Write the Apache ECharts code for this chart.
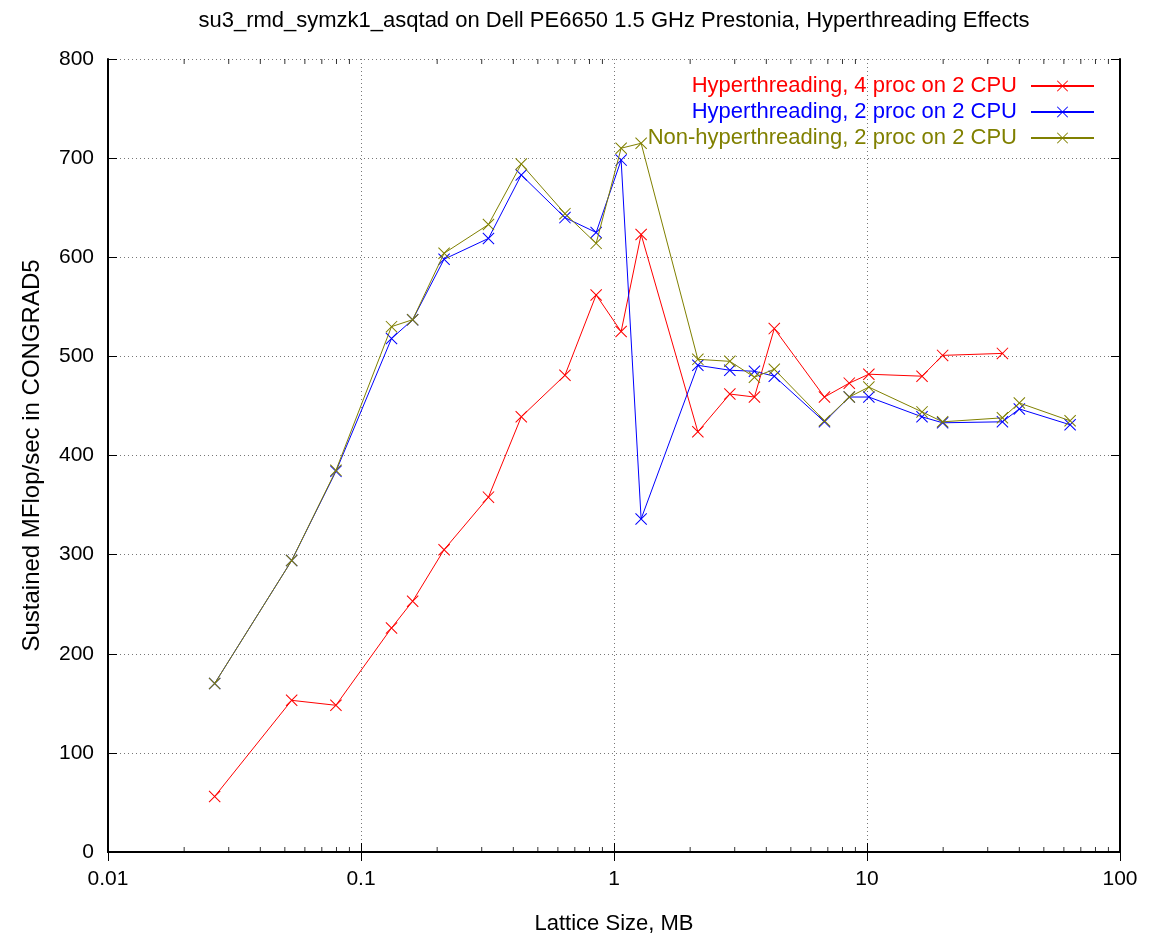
<!DOCTYPE html>
<html>
<head>
<meta charset="utf-8">
<script src="https://cdn.jsdelivr.net/npm/echarts@6/dist/echarts.min.js"></script>
<style>
html,body{margin:0;padding:0;background:#fff;}
#chart{width:1160px;height:940px;}
</style>
</head>
<body>
<div id="chart"></div>
<script>
// Lattice sizes (MB)
const latticeSizes = [0.0264, 0.0532, 0.0796, 0.132, 0.160, 0.213, 0.319, 0.430, 0.640, 0.850, 1.067, 1.28, 2.145, 2.87, 3.59, 4.30, 6.79, 8.51, 10.17, 16.5, 19.9, 34.3, 40.0, 63.5];
// Sustained MFlop/sec
const ht4proc = [56, 153, 148, 226, 253, 305, 358, 439, 481, 562, 525, 623, 424, 462, 459, 528, 459, 473, 482, 480, 501, 503];
const ht2proc = [170, 294, 384, 518, 537, 598, 619, 683, 640, 625, 698, 336, 491, 486, 485, 480, 434, 459, 459, 439, 433, 434, 447, 431];
const nonHt2proc = [170, 294, 385, 530, 537, 604, 633, 694, 644, 614, 710, 715, 497, 495, 479, 487, 435, 459, 469, 444, 434, 438, 453, 435];
const seriesNames = ['Hyperthreading, 4 proc on 2 CPU', 'Hyperthreading, 2 proc on 2 CPU', 'Non-hyperthreading, 2 proc on 2 CPU'];
const seriesColors = ['#ff0000', '#0000ff', '#808000'];
// minor tick values on the log axis
const minorTickValues = [0.02,0.03,0.04,0.05,0.06,0.07,0.08,0.09,0.2,0.3,0.4,0.5,0.6,0.7,0.8,0.9,2,3,4,5,6,7,8,9,20,30,40,50,60,70,80,90];

const FONT = 'Liberation Sans';
const xSym = 'path://M0,0.6L0.6,0L10,9.4L9.4,10Z M9.4,0L10,0.6L0.6,10L0,9.4Z';

function pairs(vals){ return vals.map((v,i)=>[latticeSizes[i], v]); }

const dataSets = [ht4proc, ht2proc, nonHt2proc];
const lineSeries = dataSets.map((vals, k) => ({
  name: seriesNames[k],
  type: 'line',
  data: pairs(vals),
  symbol: xSym,
  symbolSize: 12,
  showSymbol: true,
  color: seriesColors[k],
  itemStyle: {color: seriesColors[k]},
  lineStyle: {color: seriesColors[k], width: 1},
  emphasis: {disabled: true},
  silent: true,
  z: 3 + k
}));

const minorBottom = {
  type: 'scatter', silent: true, symbol: 'rect', symbolSize: [1, 5], symbolOffset: [0, -2.5],
  itemStyle: {color: '#000'}, data: minorTickValues.map(v => [v, 0]), clip: false, z: 10
};
const minorTop = {
  type: 'scatter', silent: true, symbol: 'rect', symbolSize: [1, 5], symbolOffset: [0, 2.5],
  itemStyle: {color: '#000'}, data: minorTickValues.map(v => [v, 800]), clip: false, z: 10
};

const chart = echarts.init(document.getElementById('chart'), null, {renderer: 'canvas'});
chart.setOption({
  animation: false,
  backgroundColor: '#fff',
  title: {
    text: 'su3_rmd_symzk1_asqtad on Dell PE6650 1.5 GHz Prestonia, Hyperthreading Effects',
    left: 609, textAlign: 'center', top: 5,
    textStyle: {fontFamily: FONT, fontSize: 22, fontWeight: 'normal', color: '#000'}
  },
  legend: {
    orient: 'vertical',
    right: 60, top: 70,
    align: 'right',
    itemWidth: 63, itemHeight: 14, itemGap: 4,
    selectedMode: false,
    textStyle: {fontFamily: FONT, fontSize: 22, lineHeight: 22, padding: [0, 9, 0, 0]},
    data: seriesNames.map((n, k) => ({name: n, textStyle: {color: seriesColors[k]}}))
  },
  grid: {left: 108, right: 40, top: 59, bottom: 82, containLabel: false},
  xAxis: [{
    type: 'log', logBase: 10, min: 0.01, max: 100,
    name: 'Lattice Size, MB', nameLocation: 'middle', nameGap: 61,
    nameTextStyle: {fontFamily: FONT, fontSize: 22, color: '#000'},
    axisLine: {show: true, lineStyle: {color: '#000', width: 2}},
    axisTick: {show: true, inside: true, length: 9, lineStyle: {color: '#000', width: 1}},
    axisLabel: {fontFamily: FONT, fontSize: 21, color: '#000', margin: 17,
      formatter: v => String(+v.toPrecision(6))},
    splitLine: {show: true, lineStyle: {color: '#777', type: [1, 3], width: 1}}
  }, {
    type: 'log', logBase: 10, min: 0.01, max: 100, position: 'top',
    axisLine: {show: true, lineStyle: {color: '#000', width: 2}},
    axisTick: {show: true, inside: true, length: 9, lineStyle: {color: '#000', width: 1}},
    axisLabel: {show: false}, splitLine: {show: false}
  }],
  yAxis: [{
    type: 'value', min: 0, max: 800, interval: 100,
    name: 'Sustained MFlop/sec in CONGRAD5', nameLocation: 'middle', nameGap: 64,
    nameTextStyle: {fontFamily: FONT, fontSize: 24, color: '#000'},
    axisLine: {show: true, lineStyle: {color: '#000', width: 2}},
    axisTick: {show: true, inside: true, length: 9, lineStyle: {color: '#000', width: 1}},
    axisLabel: {fontFamily: FONT, fontSize: 21, color: '#000', margin: 14},
    splitLine: {show: true, lineStyle: {color: '#777', type: [1, 3], width: 1}}
  }, {
    type: 'value', min: 0, max: 800, interval: 100, position: 'right',
    axisLine: {show: true, lineStyle: {color: '#000', width: 2}},
    axisTick: {show: true, inside: true, length: 9, lineStyle: {color: '#000', width: 1}},
    axisLabel: {show: false}, splitLine: {show: false}
  }],
  series: lineSeries.concat([minorBottom, minorTop])
});
</script>
</body>
</html>
